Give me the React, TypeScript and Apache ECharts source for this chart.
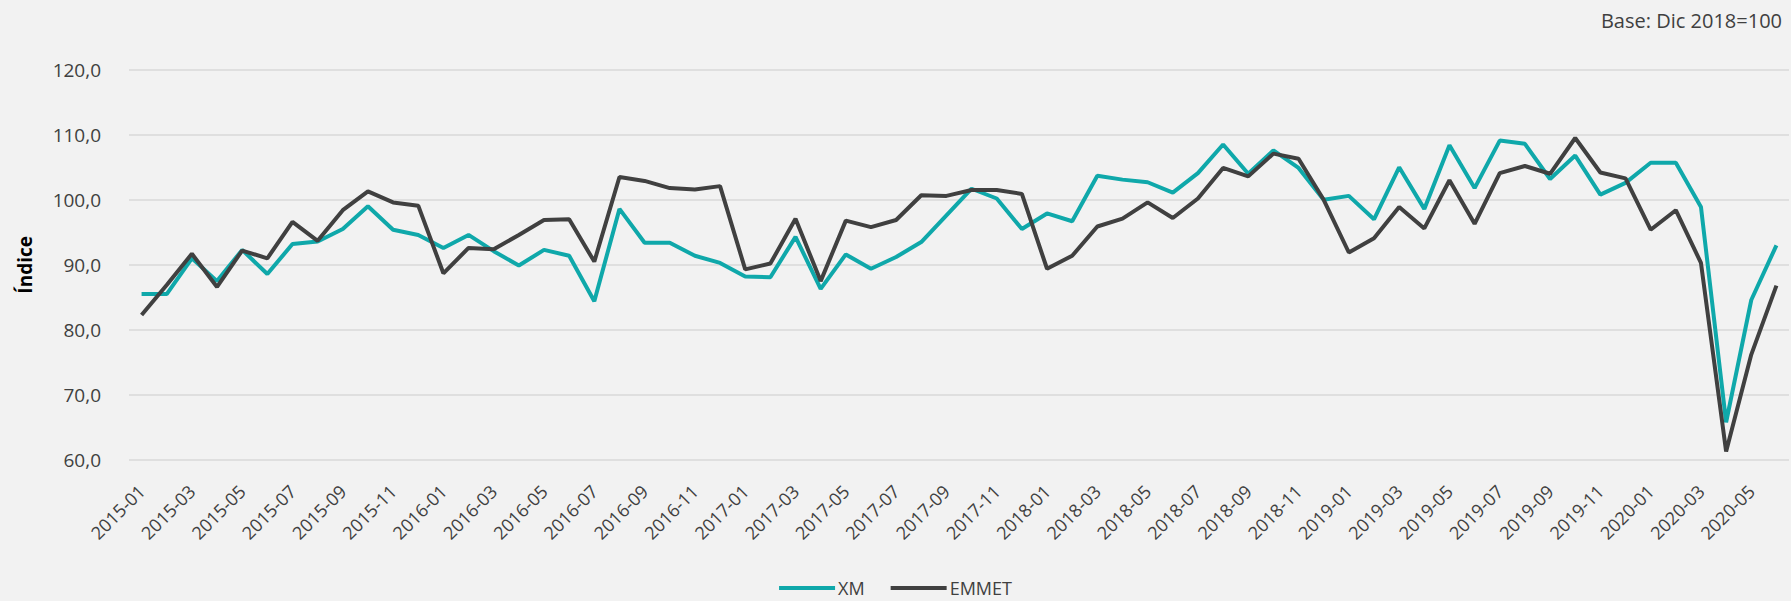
import React, { useEffect, useRef } from "react";
import * as echarts from "echarts";

const months: string[] = [
  "2015-01", "2015-02", "2015-03", "2015-04", "2015-05", "2015-06", "2015-07", "2015-08", "2015-09", "2015-10", "2015-11", "2015-12",
  "2016-01", "2016-02", "2016-03", "2016-04", "2016-05", "2016-06", "2016-07", "2016-08", "2016-09", "2016-10", "2016-11", "2016-12",
  "2017-01", "2017-02", "2017-03", "2017-04", "2017-05", "2017-06", "2017-07", "2017-08", "2017-09", "2017-10", "2017-11", "2017-12",
  "2018-01", "2018-02", "2018-03", "2018-04", "2018-05", "2018-06", "2018-07", "2018-08", "2018-09", "2018-10", "2018-11", "2018-12",
  "2019-01", "2019-02", "2019-03", "2019-04", "2019-05", "2019-06", "2019-07", "2019-08", "2019-09", "2019-10", "2019-11", "2019-12",
  "2020-01", "2020-02", "2020-03", "2020-04", "2020-05", "2020-06",
];

const xmValues: number[] = [
  85.5, 85.5, 91.0, 87.5, 92.3, 88.6, 93.2, 93.6, 95.5, 99.0, 95.4, 94.6,
  92.6, 94.6, 92.1, 89.9, 92.3, 91.4, 84.4, 98.6, 93.4, 93.4, 91.4, 90.3,
  88.2, 88.1, 94.3, 86.3, 91.6, 89.4, 91.2, 93.5, 97.6, 101.7, 100.2, 95.5,
  97.9, 96.7, 103.7, 103.1, 102.7, 101.1, 104.1, 108.5, 104.0, 107.6, 104.9, 100.0,
  100.6, 97.0, 105.0, 98.6, 108.4, 101.8, 109.1, 108.6, 103.2, 106.8, 100.8, 102.6,
  105.7, 105.7, 98.9, 65.8, 84.6, 93.0,
];

const emmetValues: number[] = [
  82.3, 86.9, 91.7, 86.6, 92.2, 91.0, 96.6, 93.7, 98.4, 101.3, 99.6, 99.1,
  88.7, 92.6, 92.4, 94.6, 96.9, 97.0, 90.5, 103.5, 102.9, 101.8, 101.6, 102.1,
  89.3, 90.2, 97.1, 87.5, 96.8, 95.8, 96.9, 100.7, 100.6, 101.5, 101.5, 100.9,
  89.4, 91.4, 95.9, 97.1, 99.6, 97.2, 100.2, 104.9, 103.6, 107.1, 106.3, 100.0,
  91.9, 94.1, 98.9, 95.6, 103.0, 96.3, 104.1, 105.2, 104.0, 109.5, 104.2, 103.3,
  95.4, 98.4, 90.3, 61.3, 76.2, 86.8,
];

const seriesNames: string[] = ["XM", "EMMET"];
const baseNote = "Base: Dic 2018=100";
const yAxisTitle = "Índice";

const FONT = '"Open Sans", "Noto Sans", sans-serif';
const TEXT = "#404040";

export default function App() {
  const ref = useRef<HTMLDivElement>(null);

  useEffect(() => {
    if (!ref.current) return;
    const chart = echarts.init(ref.current, null, { renderer: "svg" });
    chart.setOption({
      animation: false,
      backgroundColor: "#F2F2F2",
      textStyle: { fontFamily: FONT },
      title: {
        text: baseNote,
        right: 4,
        top: 5,
        textStyle: { fontFamily: FONT, fontSize: 20, fontWeight: "normal", color: TEXT },
      },
      legend: {
        data: seriesNames,
        left: "center",
        top: 574,
        itemWidth: 56,
        itemHeight: 4,
        itemGap: 26,
        icon: "rect",
        textStyle: { fontFamily: FONT, fontSize: 18, color: TEXT, padding: [0, 0, 0, -2] },
      },
      grid: { left: 129, right: 2, top: 69.7, bottom: 141, containLabel: false },
      xAxis: {
        type: "category",
        data: months,
        boundaryGap: true,
        axisLine: { show: false },
        axisTick: { show: false },
        splitLine: { show: false },
        axisLabel: {
          interval: 1,
          rotate: 45,
          margin: 28,
          fontFamily: FONT,
          fontSize: 18,
          color: TEXT,
        },
      },
      yAxis: {
        type: "value",
        min: 60,
        max: 120,
        interval: 10,
        name: yAxisTitle,
        nameLocation: "middle",
        nameGap: 95,
        nameTextStyle: { fontFamily: FONT, fontSize: 19, fontWeight: "bold", color: "#000" },
        axisLine: { show: false },
        axisTick: { show: false },
        splitLine: { lineStyle: { color: "#D9D9D9", width: 1.5 } },
        axisLabel: {
          margin: 28,
          fontFamily: FONT,
          fontSize: 19,
          color: TEXT,
          formatter: (v: number) => v.toFixed(1).replace(".", ","),
        },
      },
      series: [
        {
          name: seriesNames[0],
          type: "line",
          data: xmValues,
          symbol: "none",
          lineStyle: { color: "#0FA8AA", width: 4 },
          itemStyle: { color: "#0FA8AA" },
        },
        {
          name: seriesNames[1],
          type: "line",
          data: emmetValues,
          symbol: "none",
          lineStyle: { color: "#404040", width: 4 },
          itemStyle: { color: "#404040" },
        },
      ],
    });
    return () => chart.dispose();
  }, []);

  return (
    <div
      ref={ref}
      style={{ position: "absolute", left: 0, top: 0, width: 1791, height: 601 }}
    />
  );
}
